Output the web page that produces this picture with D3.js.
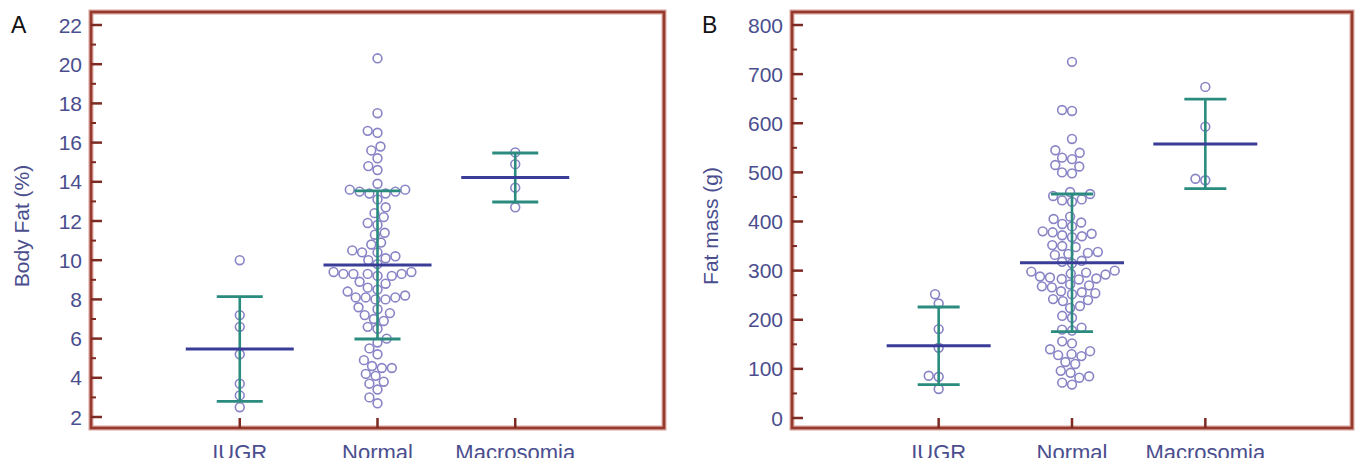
<!DOCTYPE html>
<meta charset="utf-8">
<style>
body { margin:0; background:#fff; }
text { font-family: Arial, "Liberation Sans", sans-serif; }
</style>
<script src="https://cdn.jsdelivr.net/npm/d3@7"></script>
<body>
</body>
<script>

var groups = ["IUGR", "Normal", "Macrosomia"];

// panel A : body fat (%)
var fatPctIUGR   = [10.0, 7.2, 6.6, 5.2, 3.7, 3.1, 2.5];
var fatPctNormal = [20.3, 17.5, 16.6, 16.5, 15.8, 15.6, 15.2, 14.8, 14.6,
                    13.9, 13.6, 13.6, 13.5, 13.5, 13.4, 13.4,
                    13.1, 12.7, 12.4, 12.2, 11.9, 11.8, 11.4, 11.3, 10.9, 10.8,
                    10.5, 10.4, 10.4, 10.2, 10.1, 10.0, 9.8,
                    9.4, 9.3, 9.3, 9.3, 9.2, 9.2, 9.3, 9.4,
                    8.9, 8.8, 8.6, 8.5, 8.4,
                    8.1, 8.1, 8.0, 8.0, 8.1, 8.2,
                    7.6, 7.5, 7.3, 7.2, 7.0, 6.9, 6.6, 6.5,
                    6.0, 5.8, 5.5, 5.2, 4.9,
                    4.6, 4.5, 4.5, 4.2, 4.1, 3.8, 3.7, 3.4, 3.0, 2.7];
var fatPctMacro  = [15.5, 14.9, 13.7, 12.7];
var fatPctMean   = [5.47, 9.76, 14.22];
var fatPctSD     = [2.67, 3.78, 1.25];
var fatPctTicks  = [2, 4, 6, 8, 10, 12, 14, 16, 18, 20, 22];
var fatPctMinor  = [3, 5, 7, 9, 11, 13, 15, 17, 19, 21];

// panel B : fat mass (g)
var fatMassIUGR   = [252, 233, 181, 143, 86, 84, 59];
var fatMassNormal = [725, 627, 625, 568, 545, 540, 530, 527, 515, 512, 500, 498,
                     460, 456, 452, 445, 443, 440,
                     410, 405, 390, 380, 378, 375, 372,
                     398, 395, 370, 368, 352, 350, 348,
                     338, 336, 334, 332, 320, 318, 315,
                     300, 298, 296, 294, 292, 288, 286, 284, 283, 282,
                     272, 270, 268, 266, 258, 256, 254, 252,
                     242, 240, 238, 228, 224, 208, 204,
                     184, 180, 178, 156, 152, 140, 136, 130, 128, 126,
                     114, 110, 96, 92, 85, 82, 72, 68];
var fatMassMacro  = [674, 593, 487, 484];
var fatMassMean   = [147, 316, 558];
var fatMassSD     = [79, 140, 91];
var fatMassTicks  = [0, 100, 200, 300, 400, 500, 600, 700, 800];
var fatMassMinor  = [50, 150, 250, 350, 450, 550, 650, 750];

var frameColor = "#963a30";
var tickColor  = "#7d2a22";
var textColor  = "#4a4e8e";
var dotColor   = "#8884c6";
var meanColor  = "#3a3d98";
var sdColor    = "#2a8b7e";

var svg = d3.select("body").append("svg")
   .attr("width", 1360)
   .attr("height", 464);

// clip for the cut-off category labels at the bottom edge
svg.append("clipPath").attr("id", "cut")
   .append("rect").attr("x", 0).attr("y", 0).attr("width", 1360).attr("height", 458);

drawPanel({
  letter: "A", letterX: 11, label: "Body Fat (%)", labelX: 22,
  left: 91, top: 12, right: 664, bottom: 428,
  domain: [2, 22], range: [417, 25], pad: 1.08,
  ticks: fatPctTicks, minor: fatPctMinor,
  data: [fatPctIUGR, fatPctNormal, fatPctMacro],
  mean: fatPctMean, sd: fatPctSD, meanHalf: 54, capHalf: 23
});

drawPanel({
  letter: "B", letterX: 702, label: "Fat mass (g)", labelX: 711,
  left: 792, top: 12, right: 1352, bottom: 428,
  domain: [0, 800], range: [418, 25], pad: 1.1,
  ticks: fatMassTicks, minor: fatMassMinor,
  data: [fatMassIUGR, fatMassNormal, fatMassMacro],
  mean: fatMassMean, sd: fatMassSD, meanHalf: 52, capHalf: 21
});

function swarm(values, y, diam) {
  var placed = [];
  values.slice().sort(d3.ascending).forEach(function(v) {
    var py = y(v);
    var blocked = [];
    placed.forEach(function(q) {
      var dy = Math.abs(q.py - py);
      if (dy < diam) {
        var w = Math.sqrt(diam*diam - dy*dy);
        blocked.push([q.dx - w, q.dx + w]);
      }
    });
    var cands = [0];
    blocked.forEach(b => cands.push(b[0], b[1]));
    cands.sort((a, b) => Math.abs(a) - Math.abs(b));
    var dx = cands.find(c => blocked.every(b => c <= b[0] + 1e-6 || c >= b[1] - 1e-6));
    placed.push({ v: v, py: py, dx: dx });
  });
  return placed;
}

function drawPanel(p) {
  var g = svg.append("g");

  var x = d3.scalePoint().domain(groups).range([p.left, p.right]).padding(p.pad);
  var y = d3.scaleLinear().domain(p.domain).range(p.range);

  // frame (soft halo + core line)
  g.append("rect")
    .attr("x", p.left).attr("y", p.top)
    .attr("width", p.right - p.left).attr("height", p.bottom - p.top)
    .attr("fill", "none").attr("stroke", "#d9a59c").attr("stroke-width", 5);
  g.append("rect")
    .attr("x", p.left).attr("y", p.top)
    .attr("width", p.right - p.left).attr("height", p.bottom - p.top)
    .attr("fill", "none").attr("stroke", frameColor).attr("stroke-width", 2.6);

  // y ticks pointing inward
  g.selectAll(".major").data(p.ticks).enter().append("line")
    .attr("x1", p.left).attr("x2", p.left + 11)
    .attr("y1", d => y(d)).attr("y2", d => y(d))
    .attr("stroke", tickColor).attr("stroke-width", 2.5);
  g.selectAll(".minor").data(p.minor).enter().append("line")
    .attr("x1", p.left).attr("x2", p.left + 5)
    .attr("y1", d => y(d)).attr("y2", d => y(d))
    .attr("stroke", tickColor).attr("stroke-width", 2);

  g.selectAll(".ylab").data(p.ticks).enter().append("text")
    .attr("x", p.left - 9).attr("y", d => y(d)).attr("dy", "0.36em")
    .attr("text-anchor", "end")
    .attr("font-size", 21).attr("fill", textColor)
    .text(d => d);

  // x ticks
  g.selectAll(".xt").data(groups).enter().append("line")
    .attr("x1", d => x(d)).attr("x2", d => x(d))
    .attr("y1", p.bottom).attr("y2", p.bottom - 10)
    .attr("stroke", tickColor).attr("stroke-width", 2.5);

  g.append("g").attr("clip-path", "url(#cut)")
    .selectAll("text").data(groups).enter().append("text")
    .attr("x", d => x(d)).attr("y", 459.5)
    .attr("text-anchor", "middle")
    .attr("font-size", 22).attr("fill", textColor)
    .text(d => d);

  // axis label and panel letter
  var cy = (p.top + p.bottom) / 2 + 6;
  g.append("text")
    .attr("transform", `translate(${p.labelX + 7},${cy}) rotate(-90)`)
    .attr("text-anchor", "middle")
    .attr("font-size", 21).attr("fill", textColor)
    .text(p.label);

  g.append("text")
    .attr("x", p.letterX).attr("y", 33)
    .attr("font-size", 23).attr("fill", "#111")
    .text(p.letter);

  // dots
  groups.forEach(function(grp, i) {
    var pts = swarm(p.data[i], y, 10);
    g.selectAll(".dot" + i).data(pts).enter().append("circle")
      .attr("cx", d => x(grp) + d.dx)
      .attr("cy", d => y(d.v))
      .attr("r", 4.4)
      .attr("fill", "none")
      .attr("stroke", dotColor)
      .attr("stroke-width", 1.6);
  });

  // SD bars
  groups.forEach(function(grp, i) {
    var hi = p.mean[i] + p.sd[i], lo = p.mean[i] - p.sd[i];
    var cx = x(grp);
    g.append("line").attr("x1", cx).attr("x2", cx).attr("y1", y(hi)).attr("y2", y(lo))
      .attr("stroke", sdColor).attr("stroke-width", 2.6);
    [hi, lo].forEach(function(v) {
      g.append("line").attr("x1", cx - p.capHalf).attr("x2", cx + p.capHalf)
        .attr("y1", y(v)).attr("y2", y(v))
        .attr("stroke", sdColor).attr("stroke-width", 2.8);
    });
  });

  // means
  g.selectAll(".mean").data(groups).enter().append("line")
    .attr("x1", d => x(d) - p.meanHalf).attr("x2", d => x(d) + p.meanHalf)
    .attr("y1", (d, i) => y(p.mean[i])).attr("y2", (d, i) => y(p.mean[i]))
    .attr("stroke", meanColor).attr("stroke-width", 3);
}

</script>
